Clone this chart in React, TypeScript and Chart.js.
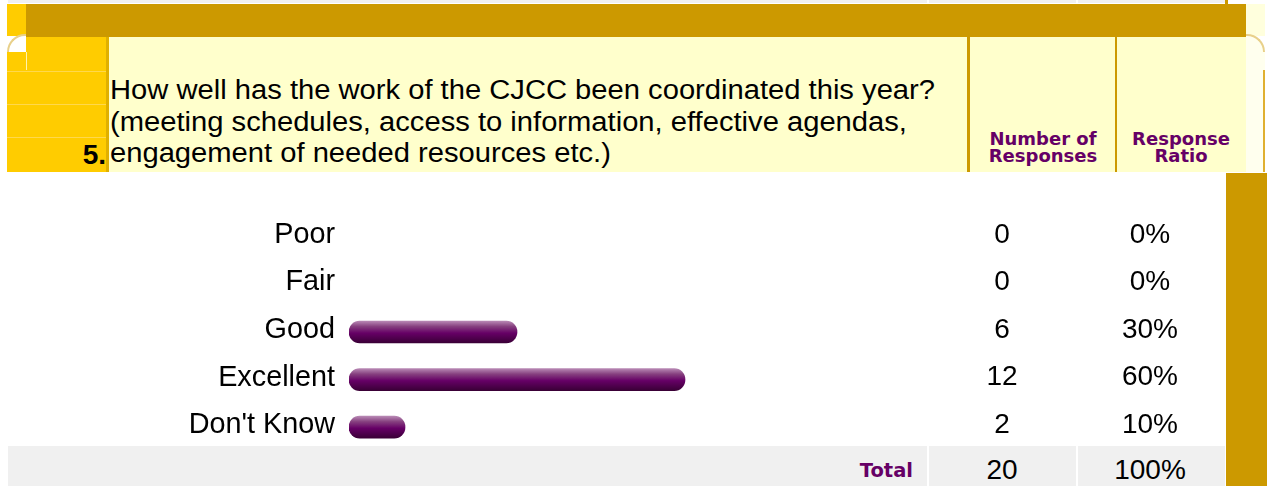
import React, { useEffect, useRef } from 'react';
import { Chart, registerables } from 'chart.js';

Chart.register(...registerables);

const questionNumber = '5.';
const questionLines = [
  'How well has the work of the CJCC been coordinated this year?',
  '(meeting schedules, access to information, effective agendas,',
  'engagement of needed resources etc.)',
];
const columnHeads = [
  ['Number of', 'Responses'],
  ['Response', 'Ratio'],
];
const categories = ['Poor', 'Fair', 'Good', 'Excellent', "Don't Know"];
const responses = [0, 0, 6, 12, 2];
const ratios = [0, 0, 30, 60, 10];
const totalLabel = 'Total';
const totalResponses = 20;
const totalRatio = 100;

const FONT = '"Liberation Sans", Arial, Helvetica, sans-serif';
const HEAD_FONT = '"DejaVu Sans", Verdana, sans-serif';
const GOLD = '#CC9900';
const YELLOW = '#FFCC00';
const CREAM = '#FFFFCC';
const GRAY = '#F0F0F0';
const PURPLE = '#660066';

const CANVAS_LEFT = 8;
const CANVAS_TOP = 213;
const CANVAS_W = 1217;
const CANVAS_H = 238;
const COUNT_X = 1002;
const RATIO_X = 1150;
const LABEL_SHIFT = -2;

const box = (x: number, y: number, w: number, h: number, bg: string, extra: React.CSSProperties = {}): React.CSSProperties => ({
  position: 'absolute', left: x, top: y, width: w, height: h, background: bg, ...extra,
});

export default function App() {
  const ref = useRef<HTMLCanvasElement | null>(null);

  useEffect(() => {
    if (!ref.current) return;
    const countsPlugin = {
      id: 'counts',
      afterDraw(chart: any) {
        const { ctx, scales } = chart;
        ctx.save();
        ctx.font = `28px ${FONT}`;
        ctx.fillStyle = '#000';
        ctx.textAlign = 'center';
        ctx.textBaseline = 'middle';
        categories.forEach((_, i) => {
          const y = scales.y.getPixelForValue(i) + LABEL_SHIFT;
          ctx.fillText(String(responses[i]), COUNT_X - CANVAS_LEFT, y);
          ctx.fillText(`${ratios[i]}%`, RATIO_X - CANVAS_LEFT, y);
        });
        ctx.restore();
      },
    };
    const chart = new Chart(ref.current, {
      type: 'bar',
      data: {
        labels: categories,
        datasets: [
          {
            data: ratios,
            barThickness: 22,
            borderRadius: 11,
            borderSkipped: false,
            borderWidth: 0,
            backgroundColor: (c: any) => {
              const ch = c.chart;
              const sy = ch.scales && ch.scales.y;
              if (c.dataIndex == null) return PURPLE;
              if (!ratios[c.dataIndex]) return 'rgba(0,0,0,0)';
              if (!sy) return PURPLE;
              const y = sy.getPixelForValue(c.dataIndex);
              if (!Number.isFinite(y)) return PURPLE;
              const g = ch.ctx.createLinearGradient(0, y - 11, 0, y + 11);
              g.addColorStop(0, '#b888b4');
              g.addColorStop(0.25, '#86407f');
              g.addColorStop(0.55, '#660066');
              g.addColorStop(1, '#3a0036');
              return g;
            },
          },
        ],
      },
      options: {
        indexAxis: 'y',
        responsive: false,
        animation: false,
        devicePixelRatio: 1,
        layout: { padding: { left: 0, right: CANVAS_W - 901, top: 0, bottom: 0 } },
        plugins: { legend: { display: false }, tooltip: { enabled: false } },
        events: [],
        scales: {
          x: { display: false, min: 0, max: 100 },
          y: {
            grid: { display: false, drawTicks: false },
            border: { display: false },
            ticks: {
              font: { family: FONT, size: 28.8 },
              color: '#000',
              padding: 14,
              labelOffset: LABEL_SHIFT,
              autoSkip: false,
            },
            afterFit: (s: any) => {
              s.width = 341;
              s.paddingTop = 0;
              s.paddingBottom = 0;
            },
          },
        },
      },
      plugins: [countsPlugin],
    } as any);
    chart.update();
    return () => chart.destroy();
  }, []);

  const text: React.CSSProperties = { fontFamily: FONT, color: '#000', whiteSpace: 'nowrap' };

  return (
    <div style={{ position: 'absolute', left: 0, top: 0, width: 1270, height: 486, overflow: 'hidden', background: '#fff' }}>
      {/* remnant of previous block */}
      <div style={box(8, 0, 1217, 3, GRAY)} />
      <div style={box(927, 0, 2, 3, '#fff')} />
      <div style={box(1076, 0, 2, 3, '#fff')} />
      <div style={box(1225, 0, 3, 4, GOLD)} />

      {/* top gold bar */}
      <div style={box(7, 4, 19, 32, YELLOW)} />
      <div style={box(26, 4, 1220, 33, GOLD)} />
      <div style={box(1246, 4, 19, 32, '#FFFFDD')} />

      {/* rounded corners */}
      <div style={box(7, 34, 19, 18, '#fff', { borderTop: '2px solid #E8D08A', borderLeft: '2px solid #E8D08A', borderTopLeftRadius: 18, boxSizing: 'border-box' })} />
      <div style={box(1246, 34, 19, 18, '#FFFFEE', { borderTop: '2px solid #E8D08A', borderRight: '2px solid #E8D08A', borderTopRightRadius: 18, boxSizing: 'border-box' })} />

      {/* header row */}
      <div style={box(7, 52, 19, 120, YELLOW)} />
      <div style={box(26, 37, 81, 135, YELLOW)} />
      <div style={box(7, 71, 100, 1, '#FFD84D')} />
      <div style={box(7, 104, 100, 1, '#FFD84D')} />
      <div style={box(7, 137, 100, 1, '#FFD84D')} />
      <div style={box(26, 52, 1, 18, '#FFF3B0')} />
      <div style={box(106, 37, 3, 135, '#E0B000')} />
      <div style={box(109, 37, 1137, 135, CREAM)} />
      <div style={box(967, 37, 3, 135, GOLD)} />
      <div style={box(1115, 37, 2, 135, GOLD)} />
      <div style={box(1246, 52, 19, 120, '#FFFFEE')} />
      <div style={box(1263, 70, 2, 102, '#E0B030')} />

      <div style={{ ...text, position: 'absolute', left: 0, width: 106, top: 139, lineHeight: '32px', fontSize: 28, fontWeight: 'bold', textAlign: 'right' }}>
        {questionNumber}
      </div>
      <div style={{ position: 'absolute', left: 110, top: 74.8, transform: 'scaleX(1.08)', transformOrigin: 'left top' }}>
        {questionLines.map((l, i) => (
          <div key={i} style={{ ...text, fontSize: 27, lineHeight: '31.7px' }}>{l}</div>
        ))}
      </div>
      {columnHeads.map((lines, i) => (
        <div
          key={i}
          style={{
            position: 'absolute', left: i === 0 ? 973 : 1120, width: i === 0 ? 140 : 122, top: 130,
            fontFamily: HEAD_FONT, fontWeight: 'bold', fontSize: 18, lineHeight: '17px', color: PURPLE, textAlign: 'center', whiteSpace: 'nowrap',
          }}
        >
          {lines.map((l, j) => <div key={j}>{l}</div>)}
        </div>
      ))}

      {/* right gold column */}
      <div style={box(1226, 173, 41, 313, GOLD)} />

      {/* total row */}
      <div style={box(8, 446, 1217, 40, GRAY)} />
      <div style={box(927, 446, 2, 40, '#fff')} />
      <div style={box(1076, 446, 2, 40, '#fff')} />
      <div style={{ position: 'absolute', left: 700, width: 213, top: 461, fontFamily: HEAD_FONT, fontWeight: 'bold', fontSize: 19.5, lineHeight: '19px', color: PURPLE, textAlign: 'right' }}>
        {totalLabel}
      </div>
      <div style={{ ...text, position: 'absolute', left: COUNT_X - 60, width: 120, top: 454.3, fontSize: 28, lineHeight: '32px', textAlign: 'center' }}>
        {totalResponses}
      </div>
      <div style={{ ...text, position: 'absolute', left: RATIO_X - 60, width: 120, top: 454.3, fontSize: 28, lineHeight: '32px', textAlign: 'center' }}>
        {`${totalRatio}%`}
      </div>

      <canvas
        ref={ref}
        width={CANVAS_W}
        height={CANVAS_H}
        style={{ position: 'absolute', left: CANVAS_LEFT, top: CANVAS_TOP, width: CANVAS_W, height: CANVAS_H }}
      />
    </div>
  );
}
